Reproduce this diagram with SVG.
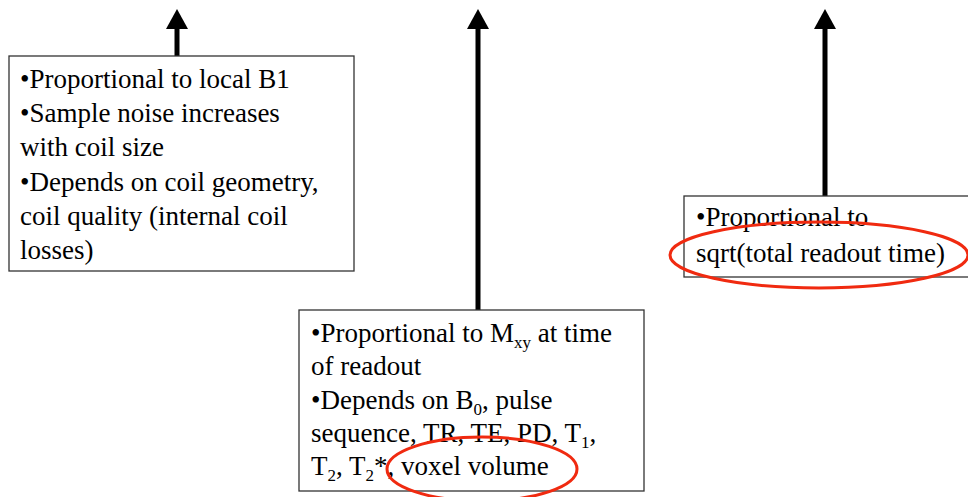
<svg xmlns="http://www.w3.org/2000/svg" width="968" height="497" viewBox="0 0 968 497">
<defs>
<style>
.box{fill:#fff;stroke:#333;stroke-width:1.3}
text{font-family:'Liberation Serif','Times New Roman',serif;font-size:27px;fill:#000}
.sub{font-size:17px}
.shaft{stroke:#000;stroke-width:5;fill:none}
.ring{fill:none;stroke:#f02a10;stroke-width:3}
</style>
<marker id="ah" markerUnits="userSpaceOnUse" markerWidth="22" markerHeight="22" refX="0" refY="11" orient="auto" viewBox="0 0 20 22">
<path d="M0,0 L20,11 L0,22 Z" fill="#000"/>
</marker>
</defs>
<g id="connectors">
<line class="shaft" x1="177" y1="56" x2="177" y2="29" marker-end="url(#ah)"/>
<line class="shaft" x1="478" y1="310" x2="478" y2="29" marker-end="url(#ah)"/>
<line class="shaft" x1="825" y1="196" x2="825" y2="29" marker-end="url(#ah)"/>
</g>
<g id="node1">
<rect class="box" x="9" y="56" width="345" height="215"/>
<text x="20" y="88">•Proportional to local B1</text>
<text x="20" y="122">•Sample noise increases</text>
<text x="20" y="156">with coil size</text>
<text x="20" y="191">•Depends on coil geometry,</text>
<text x="20" y="225">coil quality (internal coil</text>
<text x="20" y="259">losses)</text>
</g>
<g id="node2">
<rect class="box" x="299" y="310" width="345" height="181"/>
<text x="311" y="342">•Proportional to M<tspan class="sub" dy="6">xy</tspan><tspan dy="-6"> at time</tspan></text>
<text x="311" y="375">of readout</text>
<text x="311" y="409">•Depends on B<tspan class="sub" dy="6">0</tspan><tspan dy="-6">, pulse</tspan></text>
<text x="311" y="442">sequence, TR, TE, PD, T<tspan class="sub" dy="6">1</tspan><tspan dy="-6">,</tspan></text>
<text x="311" y="475">T<tspan class="sub" dy="6">2</tspan><tspan dy="-6">, T</tspan><tspan class="sub" dy="6">2</tspan><tspan dy="-6">*, voxel volume</tspan></text>
</g>
<g id="node3">
<rect class="box" x="684" y="196" width="300" height="81"/>
<text x="696" y="226">•Proportional to</text>
<text x="696" y="262">sqrt(total readout time)</text>
</g>
<g id="highlights">
<ellipse class="ring" cx="819" cy="255" rx="149" ry="33"/>
<ellipse class="ring" cx="482" cy="469" rx="95" ry="32"/>
</g>
</svg>
